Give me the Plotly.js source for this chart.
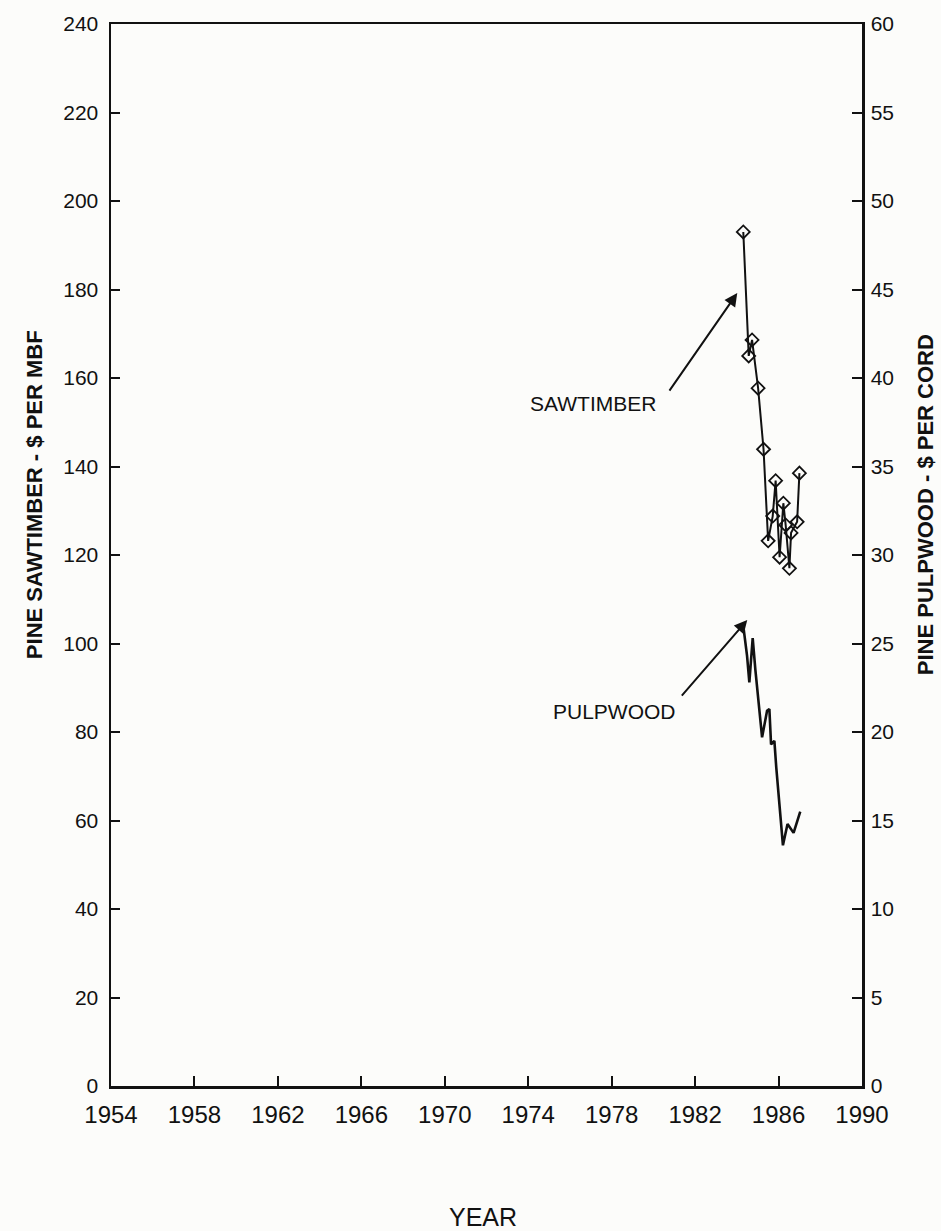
<!DOCTYPE html>
<html>
<head>
<meta charset="utf-8">
<script src="https://cdn.plot.ly/plotly-3.0.1.min.js"></script>
<style>
  html, body { margin: 0; padding: 0; background: #fcfcfa; }
  #chart { width: 941px; height: 1231px; }
</style>
</head>
<body>
<div id="chart"></div>
<script>
// Pine sawtimber ($ per MBF), left axis
const sawYears = [1984.31, 1984.57, 1984.73, 1985.02, 1985.28, 1985.50, 1985.72, 1985.86,
                  1986.05, 1986.23, 1986.34, 1986.52, 1986.60, 1986.89, 1987.00];
const sawValues = [193, 165, 168.6, 157.7, 143.9, 123.2, 128.8, 136.8,
                   119.5, 131.7, 126.8, 117, 125, 127.5, 138.5];

// Pine pulpwood ($ per cord), right axis
const pulpYears = [1984.33, 1984.49, 1984.60, 1984.76, 1984.89, 1985.05, 1985.21, 1985.45,
                   1985.56, 1985.64, 1985.80, 1985.89, 1986.21, 1986.43, 1986.72, 1987.04];
const pulpValues = [25.8, 24.3, 22.8, 25.3, 23.5, 21.4, 19.7, 21.2,
                    21.3, 19.3, 19.5, 18.0, 13.6, 14.8, 14.3, 15.5];

// Tick labels
const yearTicks = [1954, 1958, 1962, 1966, 1970, 1974, 1978, 1982, 1986, 1990];
const sawTicks = [0, 20, 40, 60, 80, 100, 120, 140, 160, 180, 200, 220, 240];
const pulpTicks = [0, 5, 10, 15, 20, 25, 30, 35, 40, 45, 50, 55, 60];

const ink = '#111111';
const tickFont = { family: 'Liberation Sans, Arial, sans-serif', size: 21, color: ink };

const traces = [
  {
    x: sawYears, y: sawValues, type: 'scatter', mode: 'lines+markers',
    line: { color: ink, width: 2 },
    marker: { symbol: 'diamond-open', size: 10, color: ink, line: { width: 1.8, color: ink } },
    yaxis: 'y', hoverinfo: 'x+y'
  },
  {
    x: pulpYears, y: pulpValues, type: 'scatter', mode: 'lines',
    line: { color: ink, width: 2.6 },
    yaxis: 'y2', hoverinfo: 'x+y'
  }
];

const layout = {
  width: 941, height: 1231,
  margin: { l: 111, r: 79, t: 24, b: 145 },
  paper_bgcolor: '#fcfcfa', plot_bgcolor: '#fcfcfa',
  showlegend: false,
  xaxis: {
    range: [1954, 1990], tickmode: 'array', tickvals: yearTicks,
    ticktext: yearTicks.map(String),
    ticks: 'inside', ticklen: 10, tickwidth: 2, tickcolor: ink,
    showline: true, linecolor: ink, linewidth: 2.5, mirror: true,
    showgrid: false, zeroline: false,
    tickfont: { family: 'Liberation Sans, Arial, sans-serif', size: 24, color: ink },
    ticklabelstandoff: 6
  },
  yaxis: {
    range: [0, 240], tickmode: 'array', tickvals: sawTicks,
    ticks: 'inside', ticklen: 9, tickwidth: 2, tickcolor: ink,
    showline: true, linecolor: ink, linewidth: 2.5,
    showgrid: false, zeroline: false, tickfont: tickFont,
    ticklabelstandoff: 6
  },
  yaxis2: {
    range: [0, 60], overlaying: 'y', side: 'right', tickmode: 'array', tickvals: pulpTicks,
    ticks: 'inside', ticklen: 10, tickwidth: 2, tickcolor: ink,
    showline: true, linecolor: ink, linewidth: 2.5,
    showgrid: false, zeroline: false, tickfont: tickFont,
    ticklabelstandoff: 2
  },
  annotations: [
    {
      text: 'SAWTIMBER', x: 1977.12, y: 154.3, xref: 'x', yref: 'y',
      showarrow: false, font: { family: 'Liberation Sans, Arial, sans-serif', size: 21, color: ink }
    },
    {
      text: '', x: 1984.02, y: 179.2, xref: 'x', yref: 'y',
      ax: 1980.72, ay: 156.8, axref: 'x', ayref: 'y',
      showarrow: true, arrowhead: 2, arrowsize: 1.3, arrowwidth: 2, arrowcolor: ink
    },
    {
      text: 'PULPWOOD', x: 1978.13, y: 84.7, xref: 'x', yref: 'y',
      showarrow: false, font: { family: 'Liberation Sans, Arial, sans-serif', size: 21, color: ink }
    },
    {
      text: '', x: 1984.50, y: 105.3, xref: 'x', yref: 'y',
      ax: 1981.30, ay: 87.9, axref: 'x', ayref: 'y',
      showarrow: true, arrowhead: 2, arrowsize: 1.3, arrowwidth: 2, arrowcolor: ink
    },
    {
      text: 'PINE SAWTIMBER - $ PER MBF', xref: 'paper', yref: 'paper',
      x: -0.101, y: 0.5565, xanchor: 'center', yanchor: 'middle', textangle: -90,
      showarrow: false, font: { family: 'Liberation Sans, Arial, sans-serif', size: 22, color: ink, weight: 'bold' }
    },
    {
      text: 'PINE PULPWOOD - $ PER CORD', xref: 'paper', yref: 'paper',
      x: 1.084, y: 0.547, xanchor: 'center', yanchor: 'middle', textangle: -90,
      showarrow: false, font: { family: 'Liberation Sans, Arial, sans-serif', size: 22, color: ink, weight: 'bold' }
    },
    {
      text: 'YEAR', xref: 'paper', yref: 'paper',
      x: 0.495, y: -0.1234, xanchor: 'center', yanchor: 'middle',
      showarrow: false, font: { family: 'Liberation Sans Narrow, Liberation Sans, sans-serif', size: 25, color: ink }
    }
  ]
};

Plotly.newPlot('chart', traces, layout, { displayModeBar: false, staticPlot: true });
</script>
</body>
</html>
